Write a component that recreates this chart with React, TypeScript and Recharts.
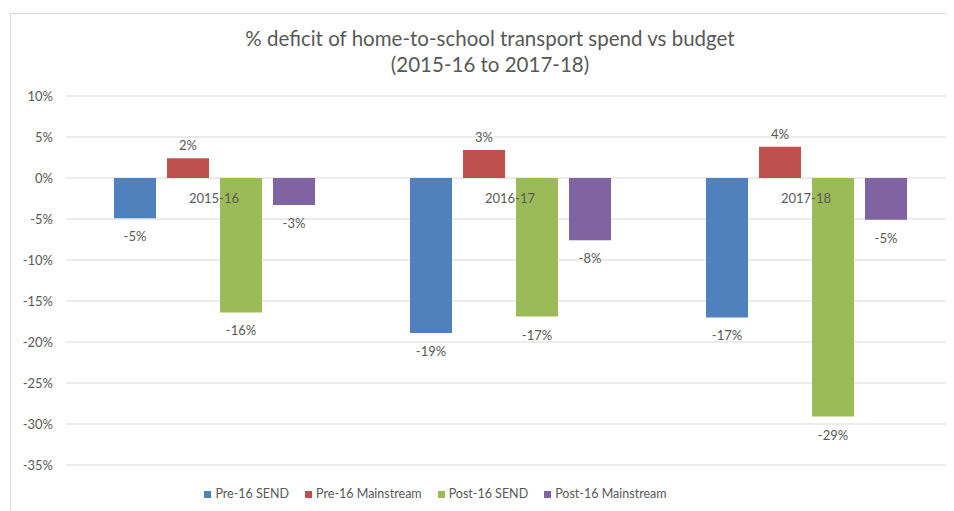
import React from "react"
import { BarChart, Bar, XAxis, YAxis, CartesianGrid, Legend, LabelList, ReferenceDot } from "recharts"

const categories = ["2015-16", "2016-17", "2017-18"]
const pre16Send = [-4.9, -18.9, -17.0]
const pre16Mainstream = [2.4, 3.4, 3.8]
const post16Send = [-16.4, -16.9, -29.1]
const post16Mainstream = [-3.3, -7.6, -5.1]
const yTicks = [10, 5, 0, -5, -10, -15, -20, -25, -30, -35]

const series = [
  { key: "pre16Send", name: "Pre-16 SEND", color: "#4F81BD" },
  { key: "pre16Mainstream", name: "Pre-16 Mainstream", color: "#C0504D" },
  { key: "post16Send", name: "Post-16 SEND", color: "#9BBB59" },
  { key: "post16Mainstream", name: "Post-16 Mainstream", color: "#8064A2" },
]

const data = categories.map((c, i) => ({
  category: c,
  pre16Send: pre16Send[i],
  pre16Mainstream: pre16Mainstream[i],
  post16Send: post16Send[i],
  post16Mainstream: post16Mainstream[i],
}))

const FONT = "Lato, 'Open Sans', sans-serif"
const TEXT = "#595959"

const ValueLabel = (props: any) => {
  const { x, y, width, height, value } = props
  const top = Math.min(y, y + height)
  const bottom = Math.max(y, y + height)
  const cx = x + width / 2
  const ty = value >= 0 ? top - 13 : bottom + 18
  return (
    <text x={cx} y={ty} textAnchor="middle" dominantBaseline="central" fontSize={13} fill={TEXT} fontFamily={FONT}>
      {Math.round(value)}%
    </text>
  )
}

const renderLegend = (props: any) => {
  const order = series.map((s) => s.name)
  const items = [...props.payload]
    .filter((p: any) => order.includes(p.value))
    .sort((a: any, b: any) => order.indexOf(a.value) - order.indexOf(b.value))
  return (
    <div style={{ display: "flex", justifyContent: "center", fontFamily: FONT, fontSize: 12.5, color: TEXT, lineHeight: "20px", paddingRight: 94 }}>
      {items.map((p: any) => (
        <div key={p.value} style={{ display: "flex", alignItems: "center", margin: "0 8px" }}>
          <span style={{ display: "inline-block", width: 7, height: 7, background: p.color, marginRight: 4 }} />
          <span>{p.value}</span>
        </div>
      ))}
    </div>
  )
}

export default function App() {
  return (
    <div style={{ position: "relative", marginLeft: 2, marginTop: 5, width: 960, height: 520, borderTop: "1px solid #d9d9d9", borderLeft: "1px solid #d9d9d9", fontFamily: FONT }}>
      <div style={{ position: "absolute", left: 0, top: 11, width: 958, textAlign: "center", color: TEXT, fontSize: 20.5, lineHeight: "26px" }}>
        <div>% deficit of home-to-school transport spend vs budget</div>
        <div>(2015-16 to 2017-18)</div>
      </div>
      <BarChart
        width={943}
        height={497}
        data={data}
        margin={{ top: 82, right: 0, left: 0, bottom: 26 }}
        barGap={11}
        barSize={42}
      >
        <CartesianGrid vertical={false} stroke="#d9d9d9" />
        <XAxis dataKey="category" hide />
        <YAxis
          domain={[-35, 10]}
          ticks={yTicks}
          width={55}
          axisLine={false}
          tickLine={false}
          tickSize={0}
          tickMargin={13}
          tickFormatter={(v: number) => `${v}%`}
          tick={{ fill: TEXT, fontSize: 13, fontFamily: FONT }}
          interval={0}
        />
        {series.map((s) => (
          <Bar key={s.key} dataKey={s.key} name={s.name} fill={s.color} isAnimationActive={false}>
            <LabelList dataKey={s.key} content={<ValueLabel />} />
          </Bar>
        ))}
        {categories.map((c) => (
          <ReferenceDot
            key={c}
            x={c}
            y={0}
            r={1}
            fill="none"
            stroke="none"
            ifOverflow="visible"
            label={{ value: c, position: "bottom", offset: 15, fill: TEXT, fontSize: 13, fontFamily: FONT }}
          />
        ))}
        <Legend verticalAlign="bottom" content={renderLegend} wrapperStyle={{ bottom: 7 }} />
      </BarChart>
    </div>
  )
}
